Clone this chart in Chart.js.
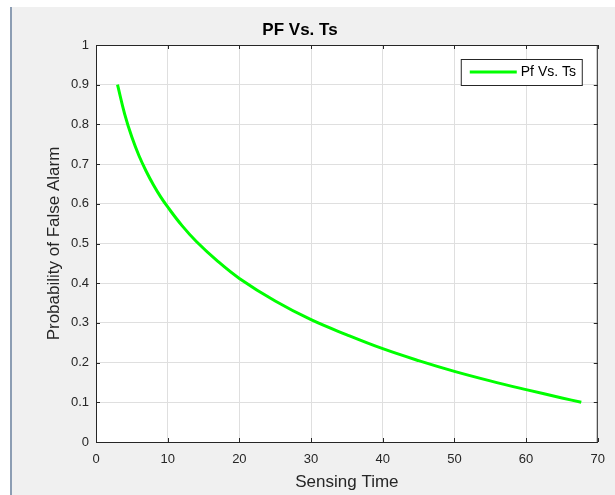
<!DOCTYPE html>
<html>
<head>
<meta charset="utf-8">
<title>PF Vs. Ts</title>
<script src="https://cdn.jsdelivr.net/npm/chart.js@4.4.1/dist/chart.umd.min.js"></script>
<style>
    html, body { margin: 0; padding: 0; background: #ffffff; }
    #wrap { width: 615px; height: 495px; }
</style>
</head>
<body>
<div id="wrap"><canvas id="pf-chart" width="615" height="495"></canvas></div>
<script>
// Data
const sensingTime = [3, 4, 5, 6, 7, 8, 9, 10, 12, 14, 17, 20, 25, 30, 35, 40, 45, 50, 55, 60, 65, 67.7];
const falseAlarm = [0.90, 0.826, 0.768, 0.721, 0.682, 0.648, 0.618, 0.592, 0.545, 0.505, 0.455, 0.412, 0.355, 0.308, 0.27, 0.235, 0.205, 0.178, 0.154, 0.132, 0.111, 0.10];
const xTicks = [0, 10, 20, 30, 40, 50, 60, 70];
const yTicks = [0, 0.1, 0.2, 0.3, 0.4, 0.5, 0.6, 0.7, 0.8, 0.9, 1];

const seriesLabel = 'Pf Vs. Ts';
const axisColor = '#262626';
const gridColor = '#dfdfdf';

Chart.defaults.font.family = "'Liberation Sans', Arial, Helvetica, sans-serif";
Chart.defaults.color = axisColor;

// MATLAB-like figure background, white axes and boxed axes with inner ticks
const figurePlugin = {
    id: 'figure',
    beforeDraw(chart) {
        const { ctx, chartArea: a } = chart;
        ctx.save();
        ctx.fillStyle = '#ffffff';
        ctx.fillRect(0, 0, chart.width, chart.height);
        ctx.fillStyle = '#f0f0f0';
        ctx.fillRect(12, 7, chart.width - 12, chart.height - 7);
        ctx.strokeStyle = '#8c9db3';
        ctx.lineWidth = 2;
        ctx.beginPath();
        ctx.moveTo(11, 7);
        ctx.lineTo(11, chart.height);
        ctx.stroke();
        ctx.fillStyle = '#ffffff';
        ctx.fillRect(a.left, a.top, a.right - a.left, a.bottom - a.top);
        ctx.restore();
    },
    afterDatasetsDraw(chart) {
        const { ctx, chartArea: a, scales } = chart;
        const tl = 4;
        ctx.save();
        ctx.strokeStyle = axisColor;
        ctx.lineWidth = 1;
        ctx.strokeRect(a.left + 0.5, a.top + 0.5, a.right - a.left - 1, a.bottom - a.top);
        ctx.beginPath();
        scales.x.ticks.forEach(t => {
            const px = Math.round(scales.x.getPixelForValue(t.value)) + 0.5;
            ctx.moveTo(px, a.bottom);
            ctx.lineTo(px, a.bottom - tl);
            ctx.moveTo(px, a.top);
            ctx.lineTo(px, a.top + tl);
        });
        scales.y.ticks.forEach(t => {
            const py = Math.round(scales.y.getPixelForValue(t.value)) + 0.5;
            ctx.moveTo(a.left, py);
            ctx.lineTo(a.left + tl, py);
            ctx.moveTo(a.right, py);
            ctx.lineTo(a.right - tl, py);
        });
        ctx.stroke();

        // legend box in the upper right of the axes
        const ds = chart.data.datasets[0];
        const bw = 121, bh = 26;
        const bx = a.right - 16 - bw, by = a.top + 14;
        ctx.fillStyle = '#ffffff';
        ctx.fillRect(bx, by, bw, bh);
        ctx.strokeStyle = axisColor;
        ctx.strokeRect(bx + 0.5, by + 0.5, bw, bh);
        ctx.strokeStyle = ds.borderColor;
        ctx.lineWidth = ds.borderWidth;
        ctx.beginPath();
        ctx.moveTo(bx + 9, by + 13);
        ctx.lineTo(bx + 56, by + 13);
        ctx.stroke();
        ctx.fillStyle = '#000000';
        ctx.font = "14px 'Liberation Sans', Arial, sans-serif";
        ctx.textBaseline = 'middle';
        ctx.textAlign = 'left';
        ctx.fillText(ds.label, bx + 60, by + 13.5);
        ctx.restore();
    }
};

const pfChart = new Chart(document.getElementById('pf-chart'), {
    type: 'line',
    data: {
        datasets: [{
            label: seriesLabel,
            data: sensingTime.map((t, i) => ({ x: t, y: falseAlarm[i] })),
            borderColor: '#00ff00',
            borderWidth: 3,
            pointRadius: 0,
            fill: false,
            tension: 0.4
        }]
    },
    options: {
        responsive: false,
        animation: false,
        devicePixelRatio: 1,
        layout: {
            padding: { top: 7, left: 0, right: 15, bottom: 0 }
        },
        plugins: {
            legend: { display: false },
            tooltip: { enabled: false },
            title: {
                display: true,
                text: 'PF Vs. Ts',
                color: '#000000',
                font: { size: 17, weight: 'bold' },
                padding: { top: 13, bottom: 4.6 }
            }
        },
        scales: {
            x: {
                type: 'linear',
                min: 0,
                max: 70,
                afterBuildTicks: scale => { scale.ticks = xTicks.map(v => ({ value: v })); },
                afterFit: scale => { scale.height = 53; },
                grid: { color: gridColor, drawTicks: false },
                border: { display: false },
                ticks: { font: { size: 13 }, padding: 10, color: axisColor, maxRotation: 0, callback: v => String(v) },
                title: {
                    display: true,
                    text: 'Sensing Time',
                    font: { size: 17 },
                    color: axisColor,
                    padding: { top: 0, bottom: 2.8 }
                }
            },
            y: {
                type: 'linear',
                min: 0,
                max: 1,
                afterBuildTicks: scale => { scale.ticks = yTicks.map(v => ({ value: v })); },
                afterFit: scale => { scale.width = 96; },
                grid: { color: gridColor, drawTicks: false },
                border: { display: false },
                ticks: { font: { size: 13 }, padding: 7, color: axisColor, callback: v => String(v) },
                title: {
                    display: true,
                    text: 'Probability of False Alarm',
                    font: { size: 17 },
                    color: axisColor,
                    padding: { top: 44, bottom: 0 }
                }
            }
        }
    },
    plugins: [figurePlugin]
});
</script>
</body>
</html>
